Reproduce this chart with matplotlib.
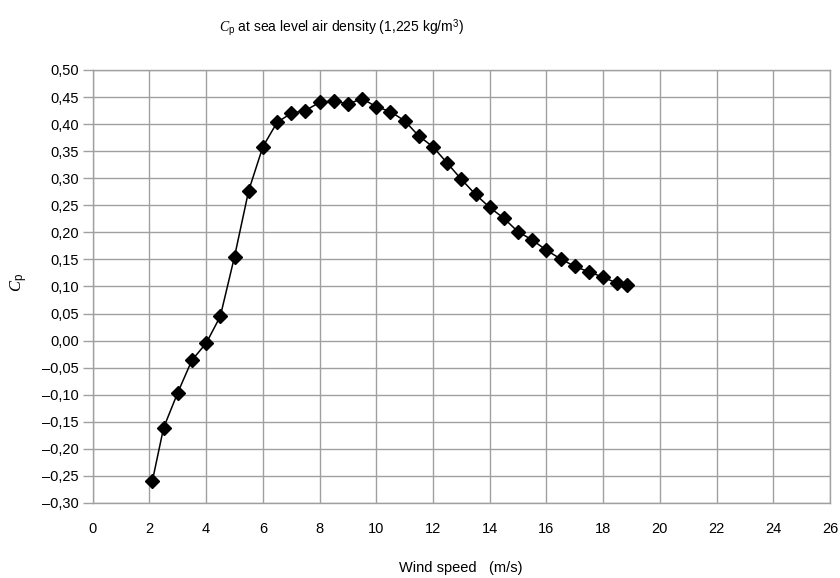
import matplotlib
matplotlib.use("Agg")
import matplotlib.pyplot as plt
from matplotlib.ticker import FuncFormatter, MultipleLocator

plt.rcParams['font.family'] = ['Liberation Sans', 'DejaVu Sans']
plt.rcParams['mathtext.fontset'] = 'custom'
plt.rcParams['mathtext.rm'] = 'Liberation Sans'
plt.rcParams['mathtext.it'] = 'Liberation Serif:italic'

wind_speed = [2.1, 2.5, 3.0, 3.5, 4.0, 4.5, 5.0, 5.5, 6.0, 6.5, 7.0, 7.5, 8.0, 8.5,
              9.0, 9.5, 10.0, 10.5, 11.0, 11.5, 12.0, 12.5, 13.0, 13.5, 14.0, 14.5,
              15.0, 15.5, 16.0, 16.5, 17.0, 17.5, 18.0, 18.5, 18.85]
cp = [-0.260, -0.161, -0.096, -0.036, -0.005, 0.045, 0.155, 0.277, 0.358, 0.403,
      0.420, 0.425, 0.440, 0.443, 0.437, 0.447, 0.432, 0.423, 0.406, 0.378,
      0.358, 0.328, 0.298, 0.270, 0.246, 0.226, 0.201, 0.186, 0.167, 0.151,
      0.137, 0.127, 0.117, 0.106, 0.103]

fig = plt.figure(figsize=(8.4, 5.78), dpi=100)
ax = fig.add_axes([0.1104, 0.1298, 0.8776, 0.7492])

ax.plot(wind_speed, cp, color='black', lw=1.1, marker='D', markersize=7,
        markerfacecolor='black', markeredgecolor='black', zorder=3)

ax.set_xlim(0, 26)
ax.set_ylim(-0.30, 0.50)
ax.xaxis.set_major_locator(MultipleLocator(2))
ax.yaxis.set_major_locator(MultipleLocator(0.05))

def comma_fmt(v, pos):
    s = f'{abs(v):.2f}'.replace('.', ',')
    return ('\u2013' + s) if v < -1e-9 else s

ax.yaxis.set_major_formatter(FuncFormatter(comma_fmt))

ax.grid(True, color='#a0a0a0', lw=1.0)
for sp in ax.spines.values():
    sp.set_color('#a0a0a0')
    sp.set_linewidth(1.0)
ax.tick_params(axis='y', length=7, color='#a0a0a0', width=1.0, labelsize=10.5, pad=3)
ax.tick_params(axis='x', length=0, labelsize=10.5, pad=14)

fig.text(0.407, 0.951, r'$C_\mathrm{p}$ at sea level air density (1,225 kg/m$^3$)',
         ha='center', va='center', fontsize=10)
fig.text(0.549, 0.018, 'Wind speed   (m/s)', ha='center', va='center', fontsize=10.5)
fig.text(0.023, 0.512, r'$C_\mathrm{p}$', ha='center', va='center', rotation=90, fontsize=12)

fig.savefig('out.png', dpi=100)
